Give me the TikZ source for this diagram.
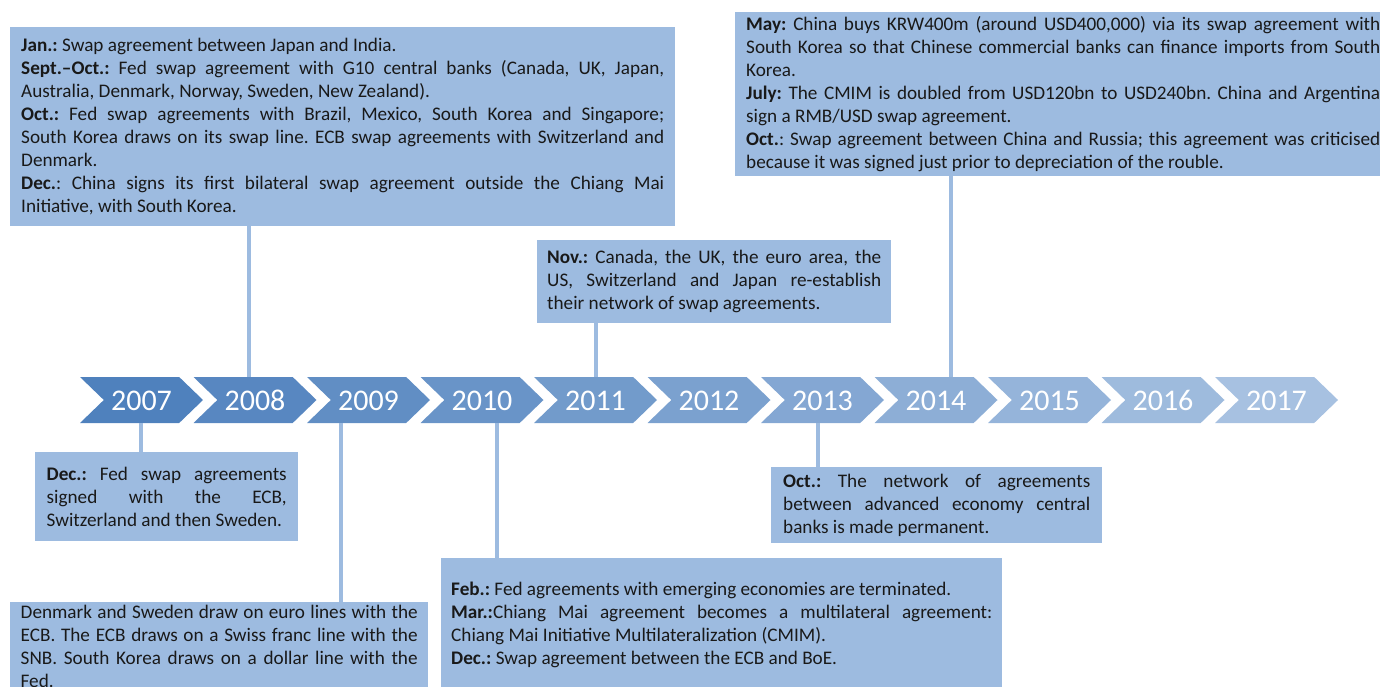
\documentclass[tikz,border=0pt]{standalone}
\usepackage{fontspec}
\setmainfont{Carlito}
\usetikzlibrary{shapes.symbols}
\definecolor{chevdark}{RGB}{79,129,189}
\definecolor{chevlight}{RGB}{167,193,225}
\definecolor{boxblue}{RGB}{157,187,224}
\definecolor{ink}{RGB}{25,25,25}
\setlength{\parindent}{0pt}
\hyphenpenalty=10000
\exhyphenpenalty=10000
\frenchspacing
\tikzset{
  yearchev/.style={signal, signal from=west, signal to=east, signal pointer angle=88,
    minimum width=123pt, minimum height=46pt, inner sep=0pt, text=white,
    text height=20pt, text depth=0pt, font=\fontsize{30}{30}\selectfont},
  eventbox/.style={fill=boxblue, anchor=north west, align=justify, text=ink,
    inner ysep=0pt, font=\fontsize{19.2}{23}\selectfont},
  link/.style={draw=boxblue, line width=4pt}
}
\begin{document}
\begin{tikzpicture}[x=1pt,y=-1pt]
\useasboundingbox (0,0) rectangle (1380,687);
\def\ymid{400}
\def\xstart{141.5}
\def\pitch{113.5}
\node[yearchev, fill=chevdark] (y2007) at (\xstart + 0*\pitch, \ymid) {2007};
\node[yearchev, fill=chevdark!90!chevlight] (y2008) at (\xstart + 1*\pitch, \ymid) {2008};
\node[yearchev, fill=chevdark!80!chevlight] (y2009) at (\xstart + 2*\pitch, \ymid) {2009};
\node[yearchev, fill=chevdark!70!chevlight] (y2010) at (\xstart + 3*\pitch, \ymid) {2010};
\node[yearchev, fill=chevdark!60!chevlight] (y2011) at (\xstart + 4*\pitch, \ymid) {2011};
\node[yearchev, fill=chevdark!50!chevlight] (y2012) at (\xstart + 5*\pitch, \ymid) {2012};
\node[yearchev, fill=chevdark!40!chevlight] (y2013) at (\xstart + 6*\pitch, \ymid) {2013};
\node[yearchev, fill=chevdark!30!chevlight] (y2014) at (\xstart + 7*\pitch, \ymid) {2014};
\node[yearchev, fill=chevdark!20!chevlight] (y2015) at (\xstart + 8*\pitch, \ymid) {2015};
\node[yearchev, fill=chevdark!10!chevlight] (y2016) at (\xstart + 9*\pitch, \ymid) {2016};
\node[yearchev, fill=chevlight] (y2017) at (\xstart + 10*\pitch, \ymid) {2017};
\node[eventbox, text width=643pt, inner xsep=11pt, minimum height=199pt] (box2008) at (10,27)
  {\textbf{Jan.:} Swap agreement between Japan and India.\par
   \textbf{Sept.--Oct.:} Fed swap agreement with G10 central banks (Canada, UK, Japan,\linebreak Australia, Denmark, Norway, Sweden, New Zealand).\par
   \textbf{Oct.:} Fed swap agreements with Brazil, Mexico, South Korea and Singapore;\linebreak South Korea draws on its swap line. ECB swap agreements with Switzerland and\linebreak Denmark.\par
   \textbf{Dec.}: China signs its first bilateral swap agreement outside the Chiang Mai\linebreak Initiative, with South Korea.};
\node[eventbox, text width=634pt, inner xsep=11pt, minimum height=164pt] (box2014) at (735,12)
  {\textbf{May:} China buys KRW400m (around USD400,000) via its swap agreement with\linebreak South Korea so that Chinese commercial banks can finance imports from South\linebreak Korea.\par
   \textbf{July:} The CMIM is doubled from USD120bn to USD240bn. China and Argentina\linebreak sign a RMB/USD swap agreement.\par
   \textbf{Oct.}: Swap agreement between China and Russia; this agreement was criticised\linebreak because it was signed just prior to depreciation of the rouble.};
\node[eventbox, text width=334pt, inner xsep=10pt, minimum height=83pt] (box2011) at (537,240)
  {\textbf{Nov.:} Canada, the UK, the euro area, the\linebreak US, Switzerland and Japan re-establish\linebreak their network of swap agreements.};
\node[eventbox, text width=240pt, inner xsep=11.5pt, minimum height=89pt] (box2007) at (35,452)
  {\textbf{Dec.:} Fed swap agreements\linebreak signed with the ECB,\linebreak Switzerland and then Sweden.};
\node[eventbox, text width=397pt, inner xsep=10.5pt, minimum height=89pt] (box2009) at (10,602)
  {Denmark and Sweden draw on euro lines with the\linebreak ECB. The ECB draws on a Swiss franc line with the\linebreak SNB. South Korea draws on a dollar line with the\linebreak Fed.};
\node[eventbox, text width=541pt, inner xsep=10pt, minimum height=133pt] (box2010) at (441,558)
  {\textbf{Feb.:} Fed agreements with emerging economies are terminated.\par
   \textbf{Mar.:}Chiang Mai agreement becomes a multilateral agreement:\linebreak Chiang Mai Initiative Multilateralization (CMIM).\par
   \textbf{Dec.:} Swap agreement between the ECB and BoE.};
\node[eventbox, text width=307pt, inner xsep=12pt, minimum height=76pt] (box2013) at (771,467)
  {\textbf{Oct.:} The network of agreements\linebreak between advanced economy central\linebreak banks is made permanent.};
\coordinate (k2007) at (141,0);
\coordinate (k2008) at (249,0);
\coordinate (k2009) at (341,0);
\coordinate (k2010) at (497,0);
\coordinate (k2011) at (596,0);
\coordinate (k2013) at (818,0);
\coordinate (k2014) at (951,0);
\draw[link] (k2008 |- box2008.south) -- (k2008 |- y2008.north);
\draw[link] (k2011 |- box2011.south) -- (k2011 |- y2011.north);
\draw[link] (k2014 |- box2014.south) -- (k2014 |- y2014.north);
\draw[link] (k2007 |- y2007.south) -- (k2007 |- box2007.north);
\draw[link] (k2009 |- y2009.south) -- (k2009 |- box2009.north);
\draw[link] (k2010 |- y2010.south) -- (k2010 |- box2010.north);
\draw[link] (k2013 |- y2013.south) -- (k2013 |- box2013.north);
\end{tikzpicture}
\end{document}
